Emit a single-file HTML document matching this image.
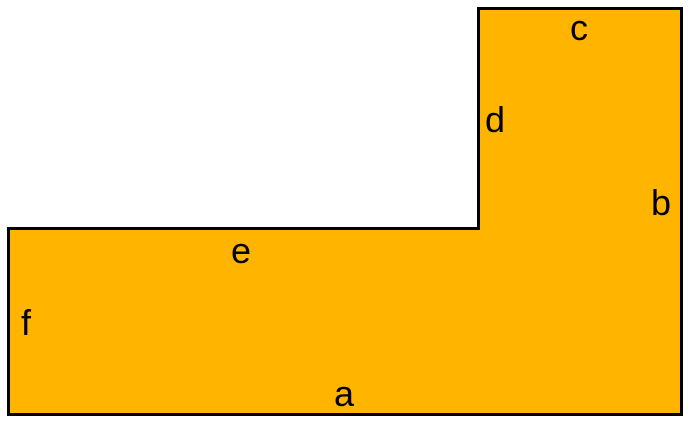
<!DOCTYPE html>
<html>
<head>
<meta charset="utf-8">
<style>
  html,body{margin:0;padding:0;background:#fff;}
  svg{display:block;}
  text{font-family:"Liberation Sans",sans-serif;font-size:36px;fill:#000;}
</style>
</head>
<body>
<svg width="692" height="425" viewBox="0 0 692 425">
  <polygon
    points="8.5,228.5 478.5,228.5 478.5,8.5 681.5,8.5 681.5,414.5 8.5,414.5"
    fill="#FFB400" stroke="#000" stroke-width="3" stroke-linejoin="miter"/>
  <text x="579" y="40" text-anchor="middle">c</text>
  <text x="495" y="132" text-anchor="middle">d</text>
  <text x="661" y="215" text-anchor="middle">b</text>
  <text x="241" y="263" text-anchor="middle">e</text>
  <text x="26" y="335" text-anchor="middle">f</text>
  <text x="344" y="406" text-anchor="middle">a</text>
</svg>
</body>
</html>
